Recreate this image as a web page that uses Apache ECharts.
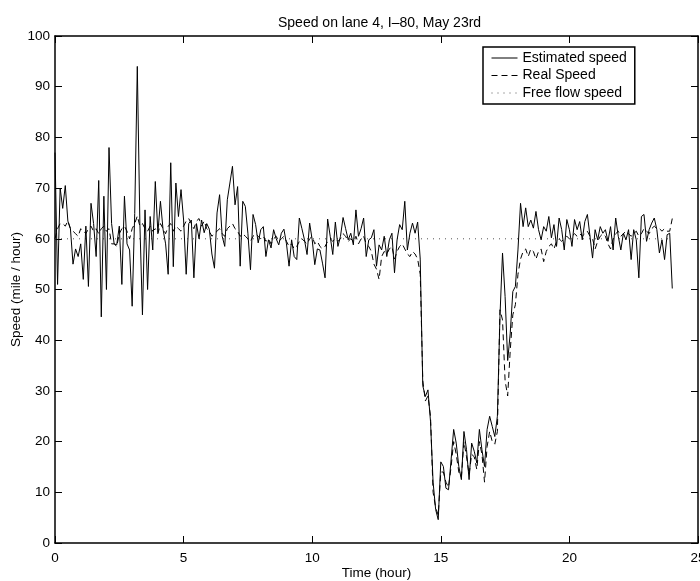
<!DOCTYPE html>
<html>
<head>
<meta charset="utf-8">
<script src="https://cdn.jsdelivr.net/npm/echarts@6/dist/echarts.min.js"></script>
<style>
  html, body { margin: 0; padding: 0; background: #fff; }
  #main { width: 700px; height: 581px; }
</style>
</head>
<body>
<div id="main"></div>
<script>
// speed samples, one every 0.1 hour from 0 to 24
var estSpeed = [
    77, 51, 70, 66, 70.5, 63.5, 62, 55, 58, 56.5,
    59, 52, 62.5, 50.6, 67, 63, 56.5, 71.5, 44.6, 68.4,
    50, 78, 63, 59, 58.8, 62.5, 51, 68.4, 59, 57.8,
    46.7, 65, 94, 63, 45, 65.7, 50, 64.4, 57.8, 71.3,
    61.2, 67.4, 61.9, 59, 53, 75, 54.5, 71, 64.4, 69.7,
    63.7, 53, 63, 63.7, 52.3, 63, 60, 63.7, 61.2, 63,
    61.9, 57, 54.2, 65.1, 68.7, 60.5, 58.5, 67.7, 71, 74.3,
    66.7, 70.3, 54.6, 67.4, 66.4, 61.1, 53.9, 64.8, 62.8, 59.2,
    61.8, 62.4, 56.5, 59.8, 58.2, 61.8, 60, 58.8, 61.1, 61.9,
    59, 54.6, 59.8, 56.5, 55.9, 64.1, 62, 59.8, 56.9, 63.1,
    59.8, 54.9, 58, 57.8, 55.2, 52.3, 63.9, 60.5, 56.9, 63.3,
    58.5, 60.5, 64.2, 62, 59.8, 61.1, 58.8, 65.7, 60.5, 62,
    64.1, 56.5, 59.8, 60.2, 61.8, 54.6, 58.8, 57.8, 60.5, 56.5,
    59.8, 61.1, 53.3, 59.8, 62.8, 61.8, 67.4, 57.8, 61.1, 63.1,
    61.1, 63.3, 56, 31, 28.9, 30.2, 24, 12, 6.6, 4.6,
    16, 15.1, 10.8, 10.5, 16.4, 22.4, 19.7, 15.1, 12.5, 22,
    18.4, 12.5, 19.7, 18.1, 15.8, 22.4, 18.4, 15.1, 22.4, 25,
    23, 21, 25, 44.7, 57.2, 48.6, 36, 41.4, 49.6, 50.6,
    57.8, 67, 62.4, 66.1, 62.4, 63.7, 62.1, 65.4, 61.8, 59.8,
    62.4, 61.5, 64.4, 60.2, 62.8, 58.5, 64.1, 61.8, 57.8, 63.8,
    61.8, 58.5, 63.8, 61.8, 63.4, 59.8, 63.4, 64.8, 60.5, 56.2,
    61.8, 59.8, 62.4, 61.1, 61.8, 59.5, 62.4, 57.8, 64.1, 60.5,
    57.8, 61.1, 59.8, 61.8, 55.9, 61.8, 59.8, 52.3, 64.4, 64.8,
    59.5, 61.8, 63.1, 64.1, 61.8, 57.2, 59.8, 55.9, 60.8, 61.1,
    50.2
];
var realSpeed = [
    60, 62, 63, 63, 62.5, 63.5, 62, 61.5, 61, 60.5,
    62, 61.5, 61, 62, 62.5, 61.5, 62, 61, 62, 62.5,
    61.5, 62, 59, 59, 58.5, 61, 62, 62.5, 61.5, 60,
    62, 63, 64.5, 62.5, 63, 62, 61.5, 62.5, 61.5, 62,
    61, 63, 62, 61, 62.5, 63, 61.5, 62.5, 62, 61.5,
    62.5, 63.5, 64, 63, 62, 63.5, 64, 62.5, 63.5, 62,
    61.5, 60.5, 61, 61.5, 62, 61, 60.5, 62, 62.5, 63,
    62, 61.5, 60.5, 61, 60.5, 60, 59.5, 60.5, 61, 60.5,
    60, 60.5, 59.5, 60, 59, 60, 60.5, 59.5, 60, 60.5,
    59.5, 58.5, 59, 58, 58.5, 59.5, 60, 59.5, 59, 60,
    60.5, 59, 59.5, 58.5, 58, 58.5, 59.5, 60, 59.5, 60,
    59.5, 60, 61, 60.5, 59.5, 60, 59.5, 60.5, 59, 60,
    60.5, 59, 58.5, 57.5, 55, 54, 52, 56.5, 57.5, 57,
    58, 58.5, 56, 57.5, 58.5, 59, 58, 57, 56.5, 57.5,
    57, 56, 53, 32, 28, 29, 25, 10, 7, 5.5,
    14, 14, 12, 11, 15, 20, 17.5, 14, 13, 20,
    17, 13.5, 17.5, 17, 14.5, 20, 17.5, 12, 19, 22,
    20, 19.5, 22, 46, 44, 32, 29, 38, 45, 47,
    53, 56, 57.5, 58, 56.5, 58, 57.5, 56, 57.5, 58,
    55.5, 57.5, 58.5, 59, 58, 59.5, 60, 59.5, 60, 60.5,
    60, 60.5, 61, 60.5, 61, 60.5, 61, 61.5, 60.5, 60,
    58, 59.5, 60.5, 61, 60.5, 59, 58, 60, 61, 61.5,
    60.5, 61, 61.5, 61, 60.5, 61, 61.5, 60.5, 61, 62,
    61.5, 61, 62, 62.5, 62, 62, 61.5, 62, 61.5, 61.5,
    64
];
var freeFlowSpeed = 60;
var freeFlowHours = [0, 24];
var xTicks = [0, 5, 10, 15, 20, 25];
var yTicks = [0, 10, 20, 30, 40, 50, 60, 70, 80, 90, 100];

var hours = estSpeed.map(function (v, i) { return +(i * 0.1).toFixed(1); });

function pairs(vals) {
    return vals.map(function (v, i) { return [hours[i], v]; });
}

var font = 'Liberation Sans, Arial, Helvetica, sans-serif';
var axisLine = { show: true, onZero: false, lineStyle: { color: '#000', width: 1.5 } };
var axisTick = { show: true, inside: true, length: 7, lineStyle: { color: '#000', width: 1 } };

var myChart = echarts.init(document.getElementById('main'));
var option = {
    animation: false,
    backgroundColor: '#fff',
    textStyle: { fontFamily: font, color: '#000' },
    title: {
        text: 'Speed on lane 4, I\u201380, May 23rd',
        left: 273,
        top: 11,
        textStyle: { fontFamily: font, fontSize: 14, fontWeight: 'normal', color: '#000' }
    },
    grid: { left: 55, right: 2, top: 36, bottom: 38, containLabel: false, outerBoundsMode: 'none' },
    legend: {
        orient: 'vertical',
        left: 483,
        top: 47,
        padding: [4, 8, 4, 8],
        itemWidth: 26,
        itemHeight: 13,
        itemGap: 3.5,
        borderColor: '#000',
        borderWidth: 1.5,
        borderRadius: 0,
        backgroundColor: '#fff',
        itemStyle: { opacity: 0 },
        lineStyle: { width: 1 },
        textStyle: { fontFamily: font, fontSize: 14, color: '#000' },
        data: ['Estimated speed', 'Real Speed', 'Free flow speed']
    },
    xAxis: [{
        type: 'value',
        min: xTicks[0],
        max: xTicks[xTicks.length - 1],
        interval: 5,
        position: 'bottom',
        axisLine: axisLine,
        axisTick: axisTick,
        splitLine: { show: false },
        axisLabel: { fontFamily: font, fontSize: 13.5, color: '#000', margin: 8 },
        name: 'Time (hour)',
        nameLocation: 'middle',
        nameGap: 23,
        nameMoveOverlap: false,
        nameTextStyle: { fontFamily: font, fontSize: 13.5, color: '#000' }
    }, {
        type: 'value',
        min: xTicks[0],
        max: xTicks[xTicks.length - 1],
        interval: 5,
        position: 'top',
        axisLine: axisLine,
        axisTick: axisTick,
        splitLine: { show: false },
        axisLabel: { show: false }
    }],
    yAxis: [{
        type: 'value',
        min: yTicks[0],
        max: yTicks[yTicks.length - 1],
        interval: 10,
        position: 'left',
        axisLine: axisLine,
        axisTick: axisTick,
        splitLine: { show: false },
        axisLabel: { fontFamily: font, fontSize: 13.5, color: '#000', margin: 5 },
        name: 'Speed (mile / hour)',
        nameLocation: 'middle',
        nameGap: 32,
        nameMoveOverlap: false,
        nameTextStyle: { fontFamily: font, fontSize: 13.5, color: '#000' }
    }, {
        type: 'value',
        min: yTicks[0],
        max: yTicks[yTicks.length - 1],
        interval: 10,
        position: 'right',
        axisLine: axisLine,
        axisTick: axisTick,
        splitLine: { show: false },
        axisLabel: { show: false }
    }],
    series: [
        {
            name: 'Estimated speed',
            type: 'line',
            symbol: 'none',
            data: pairs(estSpeed),
            lineStyle: { color: '#000', width: 1, type: 'solid' },
            itemStyle: { color: '#000' },
            z: 3
        },
        {
            name: 'Real Speed',
            type: 'line',
            symbol: 'none',
            data: pairs(realSpeed),
            lineStyle: { color: '#000', width: 1, type: [6, 4] },
            itemStyle: { color: '#000' },
            z: 2
        },
        {
            name: 'Free flow speed',
            type: 'line',
            symbol: 'none',
            data: freeFlowHours.map(function (h) { return [h, freeFlowSpeed]; }),
            lineStyle: { color: '#555', width: 1, type: [1, 5] },
            itemStyle: { color: '#555' },
            z: 1
        }
    ]
};
myChart.setOption(option);
</script>
</body>
</html>
